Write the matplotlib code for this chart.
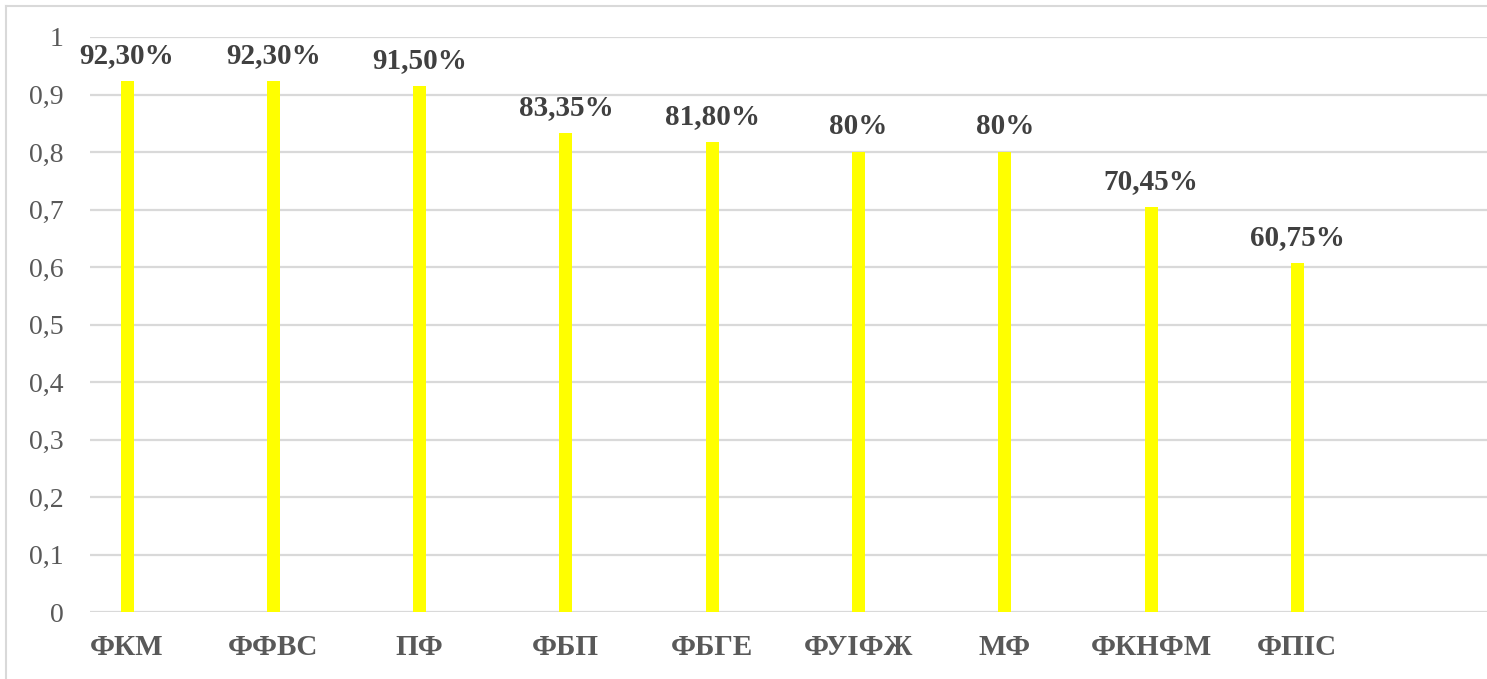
import matplotlib
matplotlib.use("Agg")
import matplotlib.pyplot as plt
from matplotlib.lines import Line2D

categories = ["ФКМ", "ФФВС", "ПФ", "ФБП", "ФБГЕ", "ФУІФЖ", "МФ", "ФКНФМ", "ФПІС"]
values = [0.923, 0.923, 0.915, 0.8335, 0.818, 0.80, 0.80, 0.7045, 0.6075]
labels = ["92,30%", "92,30%", "91,50%", "83,35%", "81,80%", "80%", "80%", "70,45%", "60,75%"]
yticks = [0, 0.1, 0.2, 0.3, 0.4, 0.5, 0.6, 0.7, 0.8, 0.9, 1.0]
ytick_labels = ["0", "0,1", "0,2", "0,3", "0,4", "0,5", "0,6", "0,7", "0,8", "0,9", "1"]

plt.rcParams['font.family'] = ['Liberation Serif', 'DejaVu Serif']

W, H = 1487, 679
fig = plt.figure(figsize=(W / 100, H / 100), dpi=100)
ax = fig.add_axes([90 / W, (H - 612) / H, (W - 90) / W, (612 - 37) / H])

x = list(range(len(categories)))
ax.bar(x, values, width=0.089, color="#FFFF00", zorder=3)

ax.set_ylim(0, 1)
ax.set_xlim(-0.253, 9.296)
ax.set_yticks(yticks)
ax.set_yticklabels(ytick_labels)
ax.set_xticks(x)
ax.set_xticklabels(categories, fontweight="bold")
ax.tick_params(axis="y", length=0, pad=19, labelsize=20, labelcolor="#595959")
ax.tick_params(axis="x", length=0, pad=16, labelsize=21, labelcolor="#595959")
ax.grid(axis="y", color="#D9D9D9", linewidth=1.6, zorder=0)
for s in ax.spines.values():
    s.set_visible(False)

for xi, v, lab in zip(x, values, labels):
    ax.annotate(lab, (xi, v), xytext=(0, 13), textcoords="offset points",
                ha="center", va="baseline", fontsize=21, fontweight="bold",
                color="#404040", clip_on=False)

# outer chart border (top and left visible)
fig.add_artist(Line2D([6 / W, 6 / W], [0, 1 - 6 / H], color="#D9D9D9", linewidth=1.5))
fig.add_artist(Line2D([6 / W, 1], [1 - 6 / H, 1 - 6 / H], color="#D9D9D9", linewidth=1.5))

fig.savefig("out.png", dpi=100)
